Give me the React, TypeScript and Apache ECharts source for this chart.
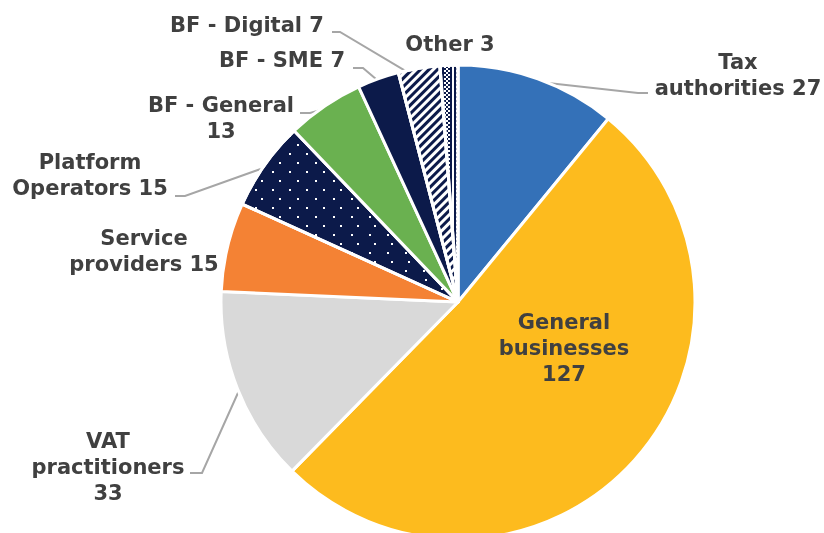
import React, { useEffect, useRef } from "react";
import * as echarts from "echarts";

const categories = [
  "Tax authorities",
  "General businesses",
  "VAT practitioners",
  "Service providers",
  "Platform Operators",
  "BF - General",
  "BF - SME",
  "BF - Digital",
  "Other",
];
const values = [27, 127, 33, 15, 15, 13, 7, 7, 3];
const labelTemplates = [
  "Tax\nauthorities {c}",
  "General\nbusinesses\n{c}",
  "VAT\npractitioners\n{c}",
  "Service\nproviders {c}",
  "Platform\nOperators {c}",
  "BF - General\n{c}",
  "BF - SME {c}",
  "BF - Digital {c}",
  "Other {c}",
];

const NAVY = "#0C1A4A";
const colors = [
  "#3471B8",
  "#FDBB1E",
  "#D9D9D9",
  "#F48234",
  NAVY,
  "#6AB150",
  NAVY,
  NAVY,
  NAVY,
];

const decals: any[] = [
  null,
  null,
  null,
  null,
  {
    symbol: "rect",
    color: "#ffffff",
    dashArrayX: [
      [2, 15],
      [0, 8.5, 2, 6.5],
    ],
    dashArrayY: [2, 6.5],
    symbolSize: 1,
    rotation: 0,
  },
  null,
  null,
  {
    symbol: "rect",
    color: "#ffffff",
    dashArrayX: [1, 0],
    dashArrayY: [2.2, 2.4],
    symbolSize: 1,
    rotation: -Math.PI / 4,
  },
  {
    symbol: "rect",
    color: "#ffffff",
    dashArrayX: [
      [2, 2],
      [0, 2, 2, 2],
    ],
    dashArrayY: [2, 0],
    symbolSize: 1,
    rotation: 0,
  },
];

// layout: label centre, leader elbow / end, anchor inset
const CX = 458;
const CY = 302;
const R = 237;
const labelPos = [
  { x: 738, y: 75, elbow: [638, 93], end: [648, 93], inset: 3 },
  { x: 564, y: 348 },
  { x: 108, y: 467, elbow: [202, 473], end: [190, 473], inset: 3 },
  { x: 144, y: 251 },
  { x: 90, y: 175, elbow: [185, 196], end: [175, 196], inset: 3 },
  { x: 221, y: 118, elbow: [310, 113], end: [300, 113], inset: 3 },
  { x: 282, y: 60, elbow: [363, 68], end: [353, 68], inset: 3 },
  { x: 247, y: 25, elbow: [340, 32], end: [332, 32], inset: 12 },
  { x: 450, y: 44 },
];

export default function App() {
  const ref = useRef<HTMLDivElement>(null);
  useEffect(() => {
    if (!ref.current) return;
    const chart = echarts.init(ref.current, undefined, { renderer: "svg" });
    const total = values.reduce((a, b) => a + b, 0);
    const starts: number[] = [];
    let acc = 0;
    values.forEach((v) => {
      starts.push(acc);
      acc += v;
    });
    const anchor = (i: number) => {
      const mid = ((starts[i] + values[i] / 2) / total) * Math.PI * 2;
      const r = R - (labelPos[i].inset || 0);
      return [CX + r * Math.sin(mid), CY - r * Math.cos(mid)];
    };
    const data = categories.map((name, i) => ({
      name,
      value: values[i],
      itemStyle: {
        color: colors[i],
        ...(decals[i] ? { decal: decals[i] } : {}),
      },
      label: {
        formatter: labelTemplates[i],
      },
      labelLine: { show: !!labelPos[i].elbow },
    }));
    chart.setOption({
      animation: false,
      series: [
        {
          type: "pie",
          center: [CX, CY],
          radius: R,
          startAngle: 90,
          clockwise: true,
          avoidLabelOverlap: false,
          itemStyle: { borderColor: "#ffffff", borderWidth: 3 },
          label: {
            show: true,
            position: "outside",
            fontFamily: "DejaVu Sans",
            fontWeight: "bold",
            fontSize: 21,
            lineHeight: 26,
            color: "#404040",
            align: "center",
          },
          labelLine: {
            show: true,
            lineStyle: { color: "#A6A6A6", width: 2 },
          },
          emphasis: { disabled: true },
          labelLayout: (params: any) => {
            const i = params.dataIndex;
            const L = labelPos[i];
            const out: any = {
              x: L.x,
              y: L.y,
              align: "center",
              verticalAlign: "middle",
            };
            if (L.elbow) {
              out.labelLinePoints = [anchor(i), L.elbow, L.end];
            }
            return out;
          },
          data,
        },
      ],
    });
    return () => chart.dispose();
  }, []);
  return (
    <div
      ref={ref}
      style={{ position: "fixed", left: 0, top: 0, width: 824, height: 533 }}
    />
  );
}
